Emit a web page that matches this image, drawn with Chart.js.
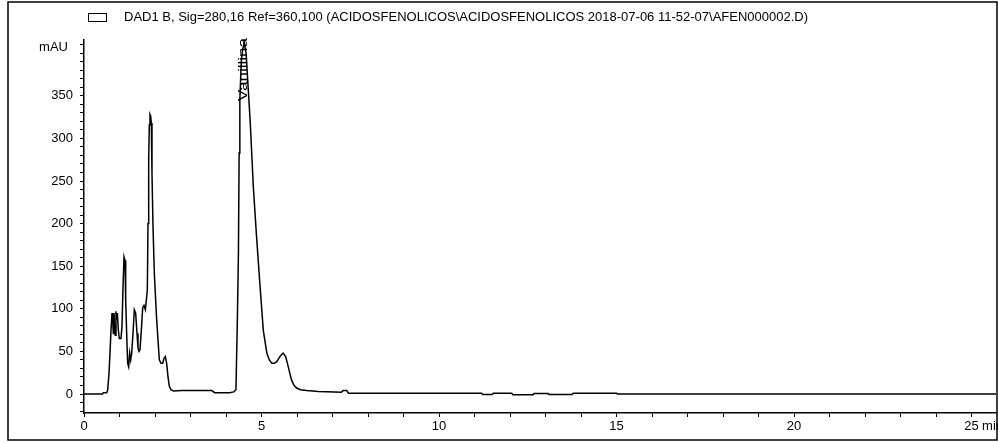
<!DOCTYPE html>
<html>
<head>
<meta charset="utf-8">
<script src="https://cdn.jsdelivr.net/npm/chart.js@4/dist/chart.umd.min.js"></script>
<style>
  html, body { margin: 0; padding: 0; background: #fff; }
  #chromChart { display: block; }
</style>
</head>
<body>
<canvas id="chromChart" width="998" height="443"></canvas>
<script>
// retention time (min) and signal (mAU)
const timeMin = [
  0, 0.52, 0.545, 0.64, 0.667, 0.704, 0.732, 0.761, 0.789, 0.808, 0.826, 0.845, 0.864, 0.883,
  0.901, 0.92, 0.939, 0.967, 0.995, 1.042, 1.07, 1.099, 1.127, 1.155, 1.174, 1.202, 1.23,
  1.258, 1.286, 1.315, 1.343, 1.38, 1.418, 1.455, 1.493, 1.521, 1.549, 1.577, 1.615, 1.653,
  1.69, 1.728, 1.756, 1.784, 1.803, 1.822, 1.84, 1.859, 1.878, 1.897, 1.915, 1.944, 1.981,
  2.019, 2.047, 2.085, 2.122, 2.169, 2.216, 2.254, 2.291, 2.329, 2.366, 2.404, 2.451, 2.52,
  2.75, 3.6, 3.68, 4.1, 4.22, 4.28, 4.32, 4.35, 4.37, 4.39, 4.43, 4.47, 4.52, 4.57, 4.62,
  4.68, 4.77, 4.86, 4.96, 5.05, 5.15, 5.22, 5.29, 5.36, 5.43, 5.52, 5.61, 5.68, 5.73, 5.8,
  5.85, 5.92, 5.99, 6.1, 6.27, 6.6, 6.84, 7.25, 7.3, 7.4, 7.45, 11.2, 11.23, 11.5, 11.53,
  12.05, 12.08, 12.65, 12.68, 13.07, 13.1, 13.75, 13.78, 15.0, 15.03, 25.69
];
const signalMAU = [
  0, 0, 1.6, 1.6, 4.7, 24, 48, 75, 95, 87, 71, 95, 75, 69,
  97, 87, 95, 75, 65, 65, 79, 126, 161, 157, 110, 71, 36,
  32, 48, 40, 48, 71, 99, 95, 71, 54, 50, 52, 75, 101,
  104, 99, 110, 122, 200, 275, 316, 328, 326, 318, 259, 196, 142,
  110, 87, 63, 40, 36, 36, 42, 44, 36, 20, 9, 5, 3.5,
  4, 4, 1.5, 1.5, 2.5, 5, 87, 165, 283, 345, 390, 405, 412, 398, 362,
  321, 243, 185, 126, 75, 48, 40, 36, 36, 38, 44, 48, 44, 36, 24,
  16, 10, 7, 5, 4, 3, 2.5, 2, 4, 4, 1, 1, -0.5, -0.5, 0.8,
  0.8, -1, -1, 0.5, 0.5, -0.5, -0.5, 0.8, 0.8, 0, 0
];

const xTicks = [];
for (let t = 0; t <= 25; t++) xTicks.push(t);
const yTicks = [];
for (let v = -20; v <= 410; v += 10) yTicks.push(v);

const peakName = 'Vanillina';
const peakTime = 4.51;
const headerText = 'DAD1 B, Sig=280,16 Ref=360,100 (ACIDOSFENOLICOS\\ACIDOSFENOLICOS 2018-07-06 11-52-07\\AFEN000002.D)';

const FONT = '"Liberation Sans", Arial, sans-serif';

const points = timeMin.map((t, i) => ({ x: t, y: signalMAU[i] }));

// frame, header legend box, unit labels and the peak annotation
const decorations = {
  id: 'decorations',
  afterDraw(chart) {
    const c = chart.ctx;
    const xs = chart.scales.x;
    const ys = chart.scales.y;
    c.save();
    c.strokeStyle = '#000';
    c.fillStyle = '#000';

    c.lineWidth = 1.5;
    c.strokeRect(8, 2, 989, 438);

    c.lineWidth = 1;
    c.strokeRect(88.5, 13.5, 18, 8);
    c.font = '13px ' + FONT;
    c.textBaseline = 'middle';
    c.textAlign = 'left';
    c.fillText(headerText, 124, 17);

    c.textAlign = 'right';
    c.fillText('mAU', 68, ys.getPixelForValue(407));

    c.textAlign = 'left';
    c.textBaseline = 'top';
    c.fillText(' min', xs.getPixelForValue(25) + 7, 420);

    // peak name, rotated
    const px = xs.getPixelForValue(peakTime);
    c.translate(px, 101);
    c.rotate(-Math.PI / 2);
    c.font = '12px ' + FONT;
    const w = c.measureText(peakName).width;
    c.scale(63 / w, 1);
    c.textAlign = 'left';
    c.textBaseline = 'middle';
    c.fillText(peakName, 0, 0);
    c.restore();
  }
};

const ctx = document.getElementById('chromChart').getContext('2d');
const chromChart = new Chart(ctx, {
  type: 'line',
  data: {
    datasets: [{
      data: points,
      borderColor: '#000',
      borderWidth: 1.5,
      pointRadius: 0,
      tension: 0,
      fill: false
    }]
  },
  options: {
    responsive: false,
    animation: false,
    layout: { padding: { top: 40, right: 2, left: 0, bottom: 0 } },
    plugins: { legend: { display: false }, tooltip: { enabled: false } },
    scales: {
      x: {
        type: 'linear',
        min: 0,
        max: 25.69,
        afterBuildTicks: s => { s.ticks = xTicks.map(v => ({ value: v })); },
        afterFit: s => { s.height = 30; },
        border: { display: true, color: '#000', width: 1.5 },
        grid: { drawOnChartArea: false, drawTicks: true, tickLength: 4, tickColor: '#000', tickWidth: 1 },
        ticks: {
          autoSkip: false,
          maxRotation: 0,
          padding: 2,
          color: '#000',
          font: { family: FONT, size: 13 },
          callback: v => (v % 5 === 0 ? String(v) : '')
        }
      },
      y: {
        type: 'linear',
        min: -22.3,
        max: 415.5,
        afterBuildTicks: s => { s.ticks = yTicks.map(v => ({ value: v })); },
        afterFit: s => { s.width = 84; },
        border: { display: true, color: '#000', width: 1.5 },
        grid: { drawOnChartArea: false, drawTicks: true, tickLength: 4, tickColor: '#000', tickWidth: 1 },
        ticks: {
          autoSkip: false,
          padding: 7,
          color: '#000',
          font: { family: FONT, size: 13 },
          callback: v => (v % 50 === 0 && v >= 0 && v <= 350 ? String(v) : '')
        }
      }
    }
  },
  plugins: [decorations]
});
</script>
</body>
</html>
